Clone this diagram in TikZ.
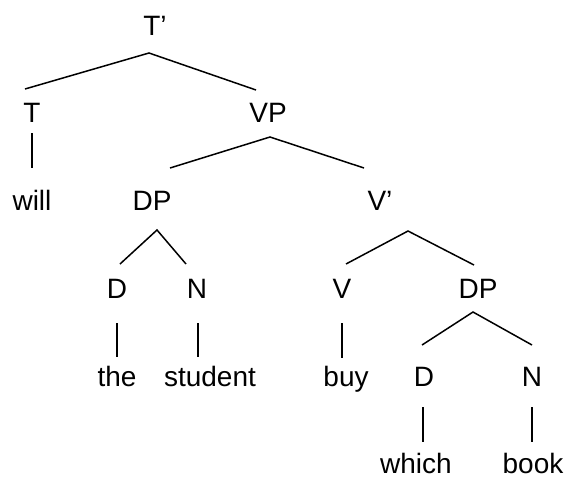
\documentclass[tikz,border=0pt]{standalone}
\usepackage{fontspec}
\setmainfont{Liberation Sans}
\begin{document}
\begin{tikzpicture}[x=1pt,y=-1pt,
  lbl/.style={anchor=base,inner sep=0pt,font=\fontsize{28}{32}\selectfont},
  edge/.style={line width=1.5pt,black}]
\useasboundingbox (0,0) rectangle (569,480);
\node[lbl] (Tp) at (155,35) {T’};
\node[lbl] (T) at (32,122) {T};
\node[lbl] (VP) at (268,122) {VP};
\node[lbl] (will) at (32,210) {will};
\node[lbl] (DPa) at (152,210) {DP};
\node[lbl] (Vb) at (380,210) {V’};
\node[lbl] (Da) at (117,298) {D};
\node[lbl] (Na) at (197,298) {N};
\node[lbl] (V) at (342,298) {V};
\node[lbl] (DPb) at (478,298) {DP};
\node[lbl] (the) at (117,386) {the};
\node[lbl] (student) at (210,386) {student};
\node[lbl] (buy) at (346,386) {buy};
\node[lbl] (Db) at (424,386) {D};
\node[lbl] (Nb) at (532,386) {N};
\node[lbl] (which) at (416,473) {which};
\node[lbl] (book) at (533,473) {book};
% connectors
\draw[edge] ([shift={(-7,-33)}]T.base) -- ([shift={(-6,18)}]Tp.base) -- ([shift={(-12,-32)}]VP.base);
\draw[edge] ([shift={(0,11)}]T.base) -- ([shift={(0,-42)}]will.base);
\draw[edge] ([shift={(18,-42)}]DPa.base) -- ([shift={(2,15)}]VP.base) -- ([shift={(-16,-42)}]Vb.base);
\draw[edge] ([shift={(3,-34)}]Da.base) -- ([shift={(5,20)}]DPa.base) -- ([shift={(-11,-34)}]Na.base);
\draw[edge] ([shift={(0,25)}]Da.base) -- ([shift={(0,-29)}]the.base);
\draw[edge] ([shift={(1,25)}]Na.base) -- ([shift={(-12,-29)}]student.base);
\draw[edge] ([shift={(4,-34)}]V.base) -- ([shift={(28,21)}]Vb.base) -- ([shift={(-4,-33)}]DPb.base);
\draw[edge] ([shift={(0,25)}]V.base) -- ([shift={(-4,-28)}]buy.base);
\draw[edge] ([shift={(-2,-41)}]Db.base) -- ([shift={(-5,14)}]DPb.base) -- ([shift={(0,-41)}]Nb.base);
\draw[edge] ([shift={(-1,21)}]Db.base) -- ([shift={(7,-31)}]which.base);
\draw[edge] ([shift={(0,21)}]Nb.base) -- ([shift={(-1,-31)}]book.base);
\end{tikzpicture}
\end{document}
